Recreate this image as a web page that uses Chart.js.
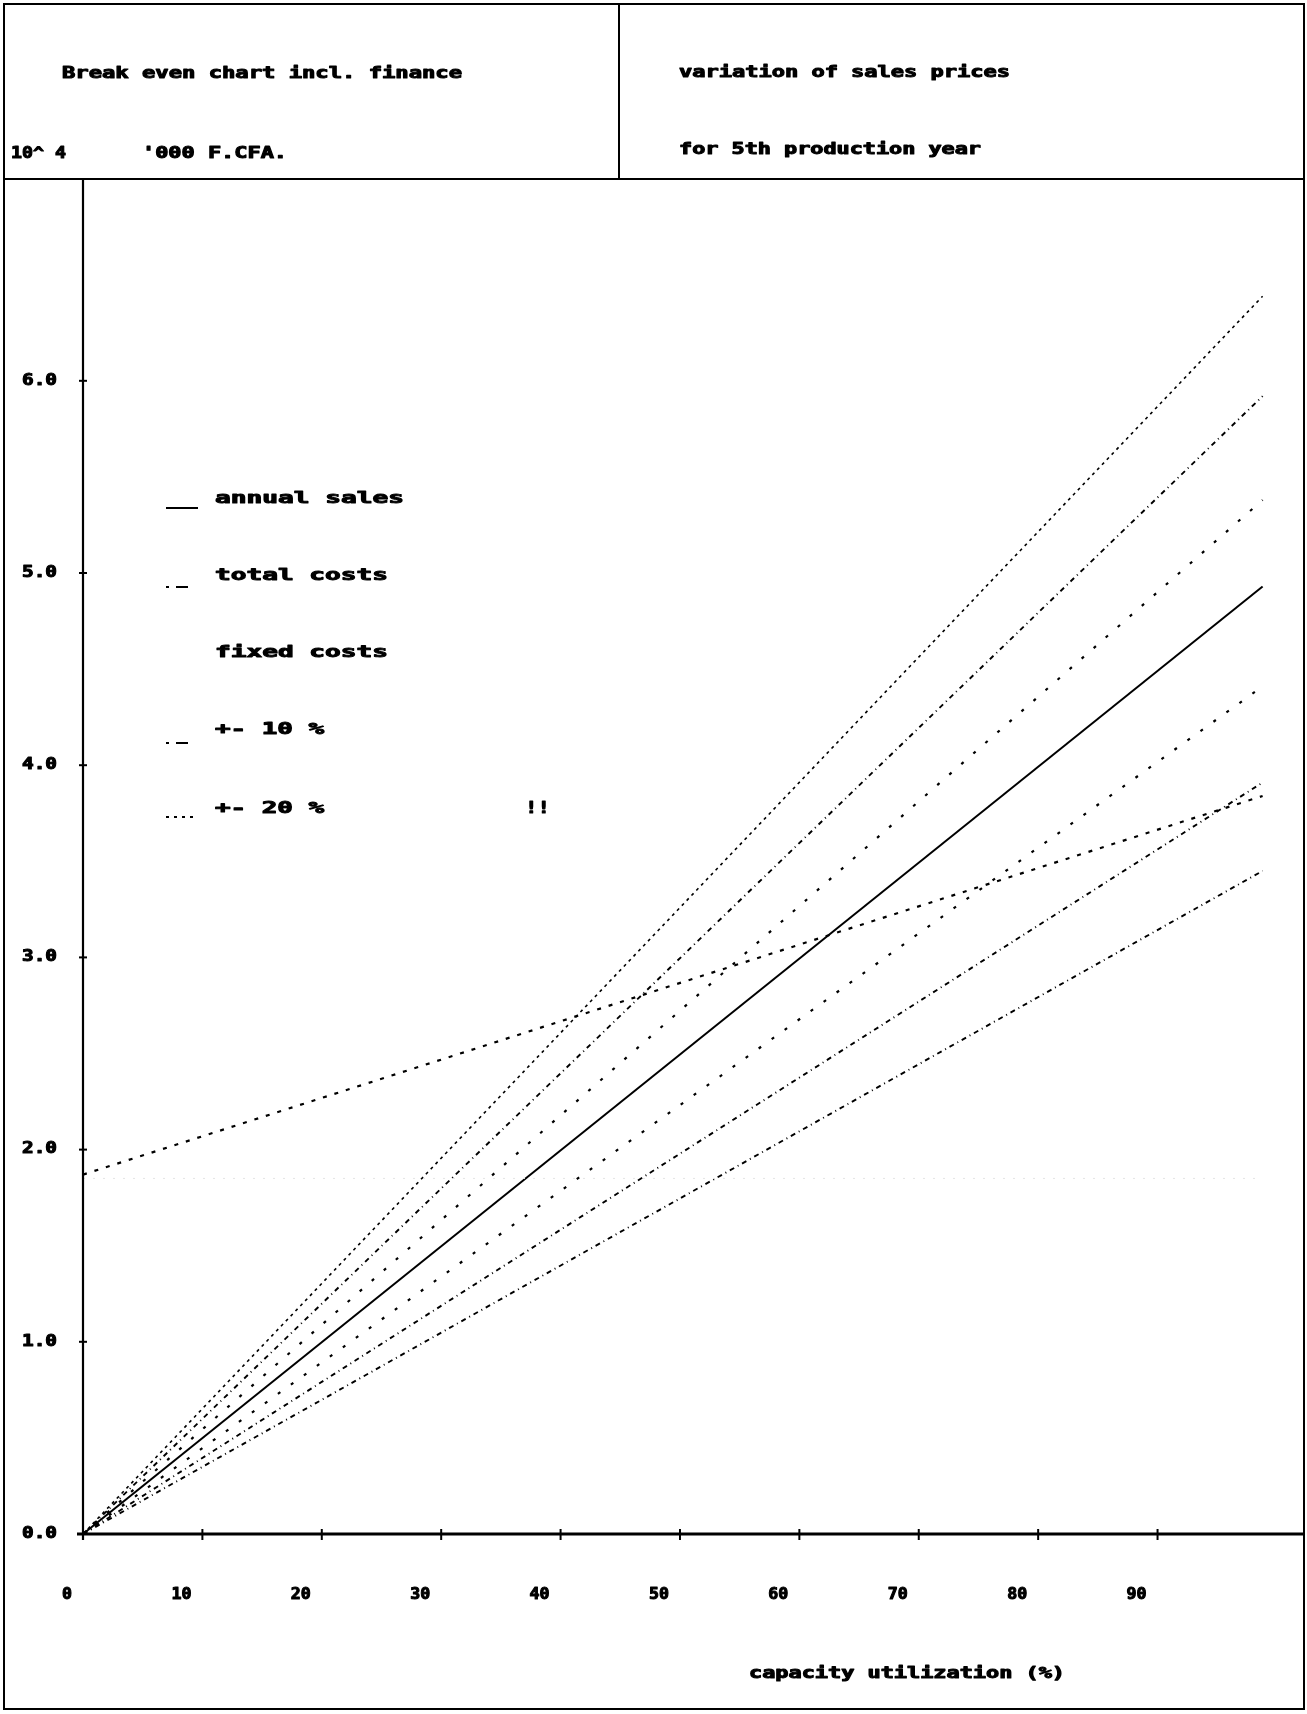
<!DOCTYPE html>
<html>
<head>
<meta charset="utf-8">
<script src="https://cdn.jsdelivr.net/npm/chart.js@4"></script>
<style>
  html, body { margin: 0; padding: 0; background: #fff; }
  #wrap { width: 1307px; height: 1714px; }
</style>
</head>
<body>
<div id="wrap"><canvas id="chart" width="1307" height="1714"></canvas></div>
<script>
// capacity utilization (%) at the two ends of every line
const capacity = [0, 98.8];

// values in 10^4 '000 F.CFA.
const annualSales  = [0, 4.93];
const salesPlus30  = [0, 6.44];
const salesPlus20  = [0, 5.92];
const salesPlus10  = [0, 5.38];
const salesMinus10 = [0, 4.41];
const salesMinus20 = [0, 3.91];
const salesMinus30 = [0, 3.45];
const totalCosts   = [1.87, 3.84];
const fixedCosts   = [1.85, 1.85];

const xTicks = [0, 10, 20, 30, 40, 50, 60, 70, 80, 90];
const xTickLabels = ['0', '10', '20', '30', '40', '50', '60', '70', '80', '90'];
const yTicks = [0, 1, 2, 3, 4, 5, 6];
const yTickLabels = ['0.0', '1.0', '2.0', '3.0', '4.0', '5.0', '6.0'];

const titleLeft = ['Break even chart incl. finance', '10^ 4', "'000 F.CFA."];
const titleRight = ['variation of sales prices', 'for 5th production year'];
const legendLabels = ['annual sales', 'total costs', 'fixed costs', '+- 10 %', '+- 20 %'];
const xTitle = 'capacity utilization (%)';

const pts = ys => capacity.map((x, i) => ({ x, y: ys[i] }));

function line(data, dash, width, color) {
  return {
    data: pts(data),
    borderColor: color || '#000',
    borderWidth: width,
    borderDash: dash,
    pointRadius: 0,
    fill: false,
    tension: 0
  };
}

// plotter-like heavy text, stretched to a given width
function txt(ctx, s, x, cy, w, size, align) {
  ctx.save();
  ctx.font = 'bold ' + size + 'px "DejaVu Sans Mono"';
  ctx.textBaseline = 'middle';
  ctx.textAlign = 'left';
  const m = ctx.measureText(s).width;
  const left = align === 'right' ? x - w : x;
  ctx.translate(left, cy);
  ctx.scale(w / m, 1);
  ctx.fillStyle = '#000';
  ctx.strokeStyle = '#000';
  ctx.lineWidth = 1;
  ctx.lineJoin = 'round';
  ctx.fillText(s, 0, 0);
  ctx.strokeText(s, 0, 0);
  ctx.restore();
}

function seg(ctx, x1, y1, x2, y2, w, dash) {
  ctx.save();
  ctx.strokeStyle = '#000';
  ctx.lineWidth = w;
  ctx.setLineDash(dash || []);
  ctx.beginPath();
  ctx.moveTo(x1, y1);
  ctx.lineTo(x2, y2);
  ctx.stroke();
  ctx.restore();
}

const paper = {
  id: 'paper',
  beforeDraw(chart) {
    const ctx = chart.ctx;
    ctx.save();
    ctx.fillStyle = '#fff';
    ctx.fillRect(0, 0, chart.width, chart.height);
    ctx.restore();
  },
  afterDraw(chart) {
    const ctx = chart.ctx;
    const xs = chart.scales.x, ys = chart.scales.y;
    const x0 = xs.getPixelForValue(0), y0 = ys.getPixelForValue(0);
    const top = chart.chartArea.top, right = chart.chartArea.right;

    // frame and header box
    ctx.save();
    ctx.strokeStyle = '#000';
    ctx.lineWidth = 2;
    ctx.strokeRect(4, 4, 1300, 1705);
    ctx.restore();
    seg(ctx, 4, top, 1304, top, 2);
    seg(ctx, 619, 4, 619, top, 2);

    txt(ctx, titleLeft[0], 62, 74, 400, 15);
    txt(ctx, titleLeft[1], 11, 154, 55, 15);
    txt(ctx, titleLeft[2], 142, 154, 145, 15);
    txt(ctx, titleRight[0], 679, 73, 331, 15);
    txt(ctx, titleRight[1], 679, 150, 302, 15);

    // axes
    seg(ctx, x0, top, x0, y0 + 6, 2.2);
    seg(ctx, x0 - 6, y0, right, y0, 2.8);

    yTicks.forEach((v, i) => {
      const py = ys.getPixelForValue(v);
      seg(ctx, x0 - 4, py, x0 + 4, py, 2);
      txt(ctx, yTickLabels[i], 57, py, 35, 15, 'right');
    });
    xTicks.forEach((v, i) => {
      const px = xs.getPixelForValue(v);
      seg(ctx, px, y0 - 5, px, y0 + 6, 2);
      const s = xTickLabels[i];
      txt(ctx, s, px - 11, 1595, s.length * 10, 15, 'right');
    });
    txt(ctx, xTitle, 749, 1674, 316, 15);

    // legend
    const ly = [499, 576, 653, 730, 809];
    legendLabels.forEach((s, i) => {
      txt(ctx, s, 215, ly[i], s.length * 16 - 3, 16);
    });
    seg(ctx, 166, 508, 198, 508, 2);
    seg(ctx, 166, 587, 190, 587, 2, [3, 7, 12, 100]);
    seg(ctx, 166, 743, 190, 743, 2, [3, 7, 12, 100]);
    seg(ctx, 166, 817, 198, 817, 2, [3, 5]);
    txt(ctx, '!!', 525, 809, 25, 16);
  }
};

new Chart(document.getElementById('chart'), {
  type: 'line',
  data: {
    datasets: [
      line(fixedCosts, [2, 8], 1, '#e4e4e4'),
      line(salesPlus30, [3, 4], 1.6),
      line(salesPlus20, [5, 4, 1, 4], 1.9),
      line(salesPlus10, [3, 13], 2.2),
      line(annualSales, [], 2),
      line(salesMinus10, [3, 13], 2.2),
      line(salesMinus20, [5, 4, 1, 4], 1.9),
      line(salesMinus30, [5, 4, 1, 4], 1.9),
      line(totalCosts, [4, 8], 2.2)
    ]
  },
  options: {
    responsive: false,
    animation: false,
    layout: { padding: { left: 83, top: 179, right: 2, bottom: 180 } },
    plugins: { legend: { display: false }, tooltip: { enabled: false } },
    scales: {
      x: { type: 'linear', min: 0, max: 102.35, display: false },
      y: { type: 'linear', min: 0, max: 7.05, display: false }
    }
  },
  plugins: [paper]
});
</script>
</body>
</html>
